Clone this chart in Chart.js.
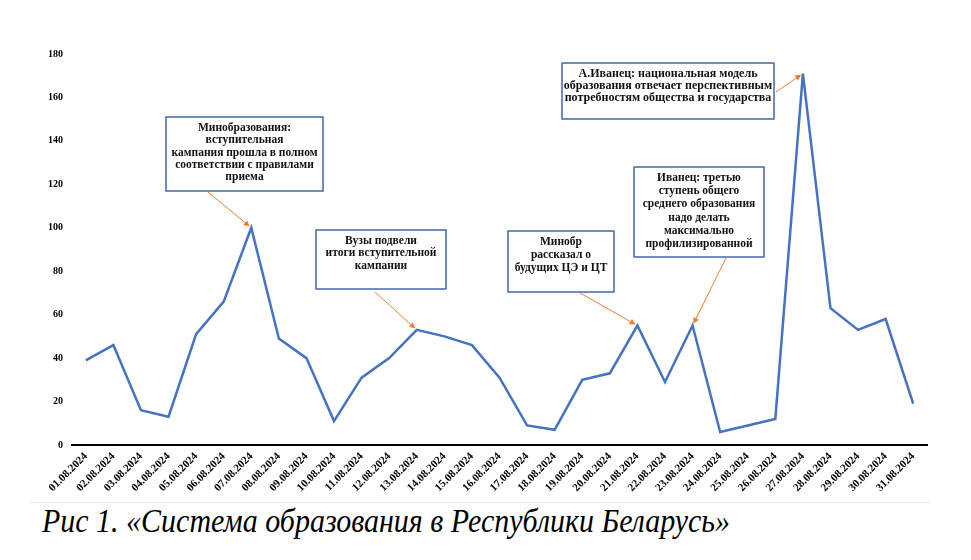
<!DOCTYPE html>
<html>
<head>
<meta charset="utf-8">
<script src="https://cdn.jsdelivr.net/npm/chart.js@4.4.1/dist/chart.umd.min.js"></script>
<style>
  body { margin: 0; background: #fff; width: 971px; height: 560px; overflow: hidden; position: relative; }
  #wrap { position: absolute; left: 0; top: 0; width: 971px; height: 500px; }
  #rule { position: absolute; left: 30px; top: 502px; width: 900px; border-top: 1px solid #ececec; }
  #caption { position: absolute; left: 42px; top: 504px; font: italic 34px "Liberation Serif"; line-height: 34px;
             white-space: nowrap; transform-origin: 0 0; color: #000; }
</style>
</head>
<body>
<div id="wrap"><canvas id="chart"></canvas></div>
<div id="rule"></div>
<div id="caption">Рис 1. «Система образования в Республики Беларусь»</div>
<script>
// Dates along the x axis
const dates = ['01.08.2024', '02.08.2024', '03.08.2024', '04.08.2024', '05.08.2024', '06.08.2024',
  '07.08.2024', '08.08.2024', '09.08.2024', '10.08.2024', '11.08.2024', '12.08.2024', '13.08.2024',
  '14.08.2024', '15.08.2024', '16.08.2024', '17.08.2024', '18.08.2024', '19.08.2024', '20.08.2024',
  '21.08.2024', '22.08.2024', '23.08.2024', '24.08.2024', '25.08.2024', '26.08.2024', '27.08.2024',
  '28.08.2024', '29.08.2024', '30.08.2024', '31.08.2024'];

// Number of publications per day
const counts = [39, 46, 16, 13, 51, 66, 100, 49, 40, 11, 31, 40, 53, 50, 46, 31, 9, 7, 30, 33,
  55, 29, 55, 6, 9, 12, 171, 63, 53, 58, 19];

// Callouts: text lines and the index of the day they point at
const noteLines = [
  ['Минобразования:', 'вступительная', 'кампания прошла в полном', 'соответствии с правилами', 'приема'],
  ['Вузы подвели', 'итоги вступительной', 'кампании'],
  ['Минобр', 'рассказал о', 'будущих ЦЭ и ЦТ'],
  ['Иванец: третью', 'ступень общего', 'среднего образования', 'надо делать', 'максимально', 'профилизированной'],
  ['А.Иванец: национальная модель', 'образования отвечает перспективным', 'потребностям общества и государства']
];
const noteTargets = [6, 12, 20, 22, 26];

// Where each callout box sits on the page, and where its arrow starts
const noteBoxes = [
  { x: 166, y: 117, w: 157, h: 74, font: 11.5, lh: 12.3, tail: [208, 192] },
  { x: 316, y: 230, w: 130, h: 59, font: 11.5, lh: 12.5, tail: [375, 292] },
  { x: 508, y: 231, w: 106, h: 61, font: 11.5, lh: 12.8, tail: [580, 293] },
  { x: 634, y: 167, w: 130, h: 90, font: 11.5, lh: 13.2, tail: [726, 258] },
  { x: 562, y: 63, w: 212, h: 56, font: 12, lh: 12.2, tail: [776, 92] }
];

// Draws the callout boxes and their orange arrows on top of the line
const calloutPlugin = {
  id: 'callouts',
  afterDatasetsDraw(chart) {
    const ctx = chart.ctx;
    const pts = chart.getDatasetMeta(0).data;
    ctx.save();
    noteBoxes.forEach(function (b, i) {
      // arrow
      const p = pts[noteTargets[i]];
      const dx = p.x - b.tail[0], dy = p.y - b.tail[1];
      const len = Math.sqrt(dx * dx + dy * dy);
      const ux = dx / len, uy = dy / len;
      const tx = p.x - ux * 2, ty = p.y - uy * 2;
      ctx.strokeStyle = '#ED7D31';
      ctx.fillStyle = '#ED7D31';
      ctx.lineWidth = 1;
      ctx.beginPath();
      ctx.moveTo(b.tail[0], b.tail[1]);
      ctx.lineTo(tx - ux * 5, ty - uy * 5);
      ctx.stroke();
      ctx.beginPath();
      ctx.moveTo(tx, ty);
      ctx.lineTo(tx - ux * 6 - uy * 3, ty - uy * 6 + ux * 3);
      ctx.lineTo(tx - ux * 6 + uy * 3, ty - uy * 6 - ux * 3);
      ctx.closePath();
      ctx.fill();

      // box
      ctx.fillStyle = '#fff';
      ctx.fillRect(b.x, b.y, b.w, b.h);
      ctx.strokeStyle = '#4468A8';
      ctx.lineWidth = 1.5;
      ctx.strokeRect(b.x, b.y, b.w, b.h);

      // text
      ctx.fillStyle = '#111';
      ctx.font = 'bold ' + b.font + 'px "Liberation Serif"';
      ctx.textAlign = 'center';
      ctx.textBaseline = 'middle';
      noteLines[i].forEach(function (line, k) {
        ctx.fillText(line, b.x + b.w / 2, b.y + 11 + k * b.lh);
      });
    });
    ctx.restore();
  }
};

let ctx = document.getElementById('chart').getContext('2d');
let chart = new Chart(ctx, {
  type: 'line',
  data: {
    labels: dates,
    datasets: [{
      data: counts,
      borderColor: '#4472C4',
      borderWidth: 2.5,
      pointRadius: 0,
      tension: 0,
      fill: false
    }]
  },
  options: {
    responsive: true,
    maintainAspectRatio: false,
    animation: false,
    layout: { padding: { top: 54, right: 44, bottom: 0, left: 0 } },
    plugins: {
      legend: { display: false },
      tooltip: { enabled: false }
    },
    scales: {
      x: {
        offset: true,
        grid: { display: false, drawTicks: false, offset: true },
        border: { display: true, color: '#000', width: 2 },
        ticks: {
          color: '#000',
          font: { family: 'Liberation Serif', size: 11, weight: 'bold' },
          minRotation: 45,
          maxRotation: 45,
          autoSkip: false,
          padding: 5
        },
        afterFit: function (scale) { scale.height = 55; }
      },
      y: {
        min: 0,
        max: 180,
        grid: { display: false, drawTicks: false },
        border: { display: false },
        ticks: {
          stepSize: 20,
          color: '#000',
          font: { family: 'Liberation Serif', size: 10, weight: 'bold' },
          padding: 9
        },
        afterFit: function (scale) { scale.width = 72; }
      }
    }
  },
  plugins: [calloutPlugin]
});

// squeeze the caption to the width it has in the figure
let cap = document.getElementById('caption');
let w = cap.getBoundingClientRect().width;
cap.style.transform = 'scaleX(' + (688 / w) + ')';
</script>
</body>
</html>
